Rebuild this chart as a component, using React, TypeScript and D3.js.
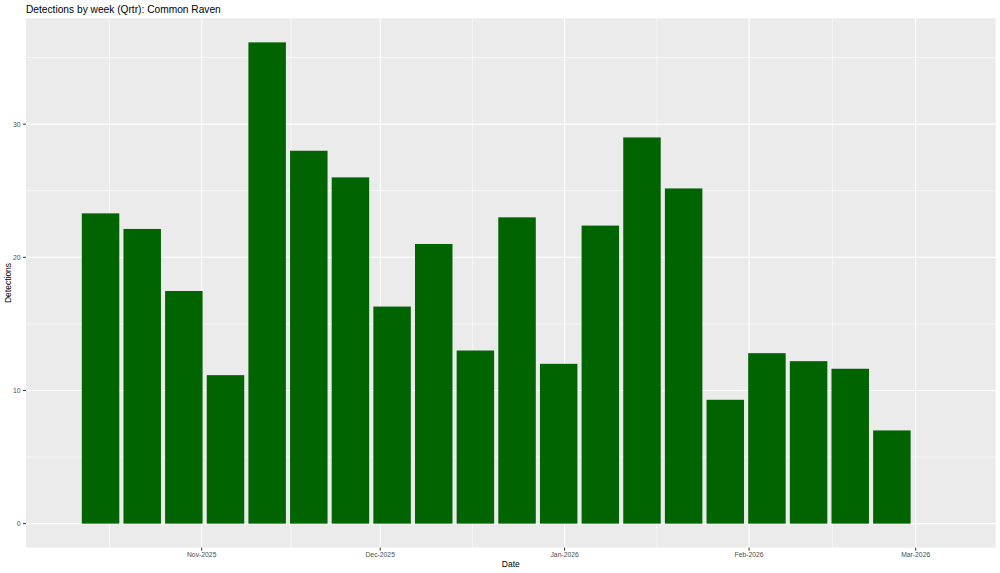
import React from "react";
import * as d3 from "d3";

const weekCenters: string[] = [
  "2025-10-15", "2025-10-22", "2025-10-29", "2025-11-05", "2025-11-12",
  "2025-11-19", "2025-11-26", "2025-12-03", "2025-12-10", "2025-12-17",
  "2025-12-24", "2025-12-31", "2026-01-07", "2026-01-14", "2026-01-21",
  "2026-01-28", "2026-02-04", "2026-02-11", "2026-02-18", "2026-02-25",
];
const detections: number[] = [
  23.3, 22.13, 17.47, 11.15, 36.14,
  28, 26, 16.3, 21, 13,
  23, 12, 22.38, 29, 25.17,
  9.3, 12.8, 12.2, 11.63, 7,
];
const xTickDates: string[] = ["2025-11-01", "2025-12-01", "2026-01-01", "2026-02-01", "2026-03-01"];
const xTickLabels: string[] = ["Nov-2025", "Dec-2025", "Jan-2026", "Feb-2026", "Mar-2026"];
const xMinorAnchors: string[] = ["2025-10-01", "2025-11-01", "2025-12-01", "2026-01-01", "2026-02-01", "2026-03-01", "2026-04-01"];
const yTicks: number[] = [0, 10, 20, 30];
const yMinor: number[] = [5, 15, 25, 35];

const W = 1000;
const H = 573;
const panel = { left: 26, right: 995.7, top: 18.3, bottom: 547.7 };
const FONT = "'Liberation Sans', Arial, Helvetica, sans-serif";

const parse = (s: string) => new Date(s + "T00:00:00Z");
const DAY = 86400000;

export default function App() {
  const x = d3
    .scaleUtc()
    .domain([new Date(parse("2025-10-02").getTime() + 0.47 * DAY), new Date(parse("2026-03-14").getTime() + 0.45 * DAY)])
    .range([panel.left, panel.right]);
  const maxV = d3.max(detections) as number;
  const y = d3
    .scaleLinear()
    .domain([-0.05 * maxV, maxV * 1.05])
    .range([panel.bottom, panel.top]);

  const barHalf = (x(new Date(parse("2025-10-15").getTime() + 3.15 * DAY)) - x(parse("2025-10-15")));

  const minorX: number[] = [];
  for (let i = 0; i < xMinorAnchors.length - 1; i++) {
    const a = parse(xMinorAnchors[i]).getTime();
    const b = parse(xMinorAnchors[i + 1]).getTime();
    const px = x(new Date((a + b) / 2));
    if (px > panel.left && px < panel.right) minorX.push(px);
  }

  return (
    <svg width={W} height={H} style={{ position: "absolute", left: 0, top: 0, background: "#fff" }}>
      <rect x={0} y={0} width={W} height={H} fill="#ffffff" />
      <rect
        x={panel.left}
        y={panel.top}
        width={panel.right - panel.left}
        height={panel.bottom - panel.top}
        fill="#EBEBEB"
      />
      {yMinor.map((v) => (
        <line key={"ym" + v} x1={panel.left} x2={panel.right} y1={y(v)} y2={y(v)} stroke="#ffffff" strokeWidth={0.55} />
      ))}
      {minorX.map((px, i) => (
        <line key={"xm" + i} x1={px} x2={px} y1={panel.top} y2={panel.bottom} stroke="#ffffff" strokeWidth={0.55} />
      ))}
      {yTicks.map((v) => (
        <line key={"yg" + v} x1={panel.left} x2={panel.right} y1={y(v)} y2={y(v)} stroke="#ffffff" strokeWidth={1.1} />
      ))}
      {xTickDates.map((d) => (
        <line key={"xg" + d} x1={x(parse(d))} x2={x(parse(d))} y1={panel.top} y2={panel.bottom} stroke="#ffffff" strokeWidth={1.1} />
      ))}
      {weekCenters.map((d, i) => {
        const cx = x(parse(d));
        return (
          <rect
            key={"b" + d}
            x={cx - barHalf}
            y={y(detections[i])}
            width={barHalf * 2}
            height={y(0) - y(detections[i])}
            fill="#006400"
          />
        );
      })}
      {yTicks.map((v) => (
        <g key={"yt" + v}>
          <line x1={panel.left - 3} x2={panel.left} y1={y(v)} y2={y(v)} stroke="#333333" strokeWidth={1} />
          <text x={panel.left - 5.5} y={y(v)} dy="0.35em" textAnchor="end" fontFamily={FONT} fontSize={6.8} fill="#4D4D4D">
            {v}
          </text>
        </g>
      ))}
      {xTickDates.map((d, i) => (
        <g key={"xt" + d}>
          <line x1={x(parse(d))} x2={x(parse(d))} y1={panel.bottom} y2={panel.bottom + 3} stroke="#333333" strokeWidth={1} />
          <text x={x(parse(d))} y={panel.bottom + 9.2} textAnchor="middle" fontFamily={FONT} fontSize={6.8} fill="#4D4D4D">
            {xTickLabels[i]}
          </text>
        </g>
      ))}
      <text x={(panel.left + panel.right) / 2} y={567} textAnchor="middle" fontFamily={FONT} fontSize={8.5} fill="#000">
        Date
      </text>
      <text
        transform={`translate(10.5, ${(panel.top + panel.bottom) / 2}) rotate(-90)`}
        textAnchor="middle"
        fontFamily={FONT}
        fontSize={8.5}
        fill="#000"
      >
        Detections
      </text>
      <text x={panel.left} y={12.5} fontFamily={FONT} fontSize={10.2} fill="#000">
        Detections by week (Qrtr): Common Raven
      </text>
    </svg>
  );
}
